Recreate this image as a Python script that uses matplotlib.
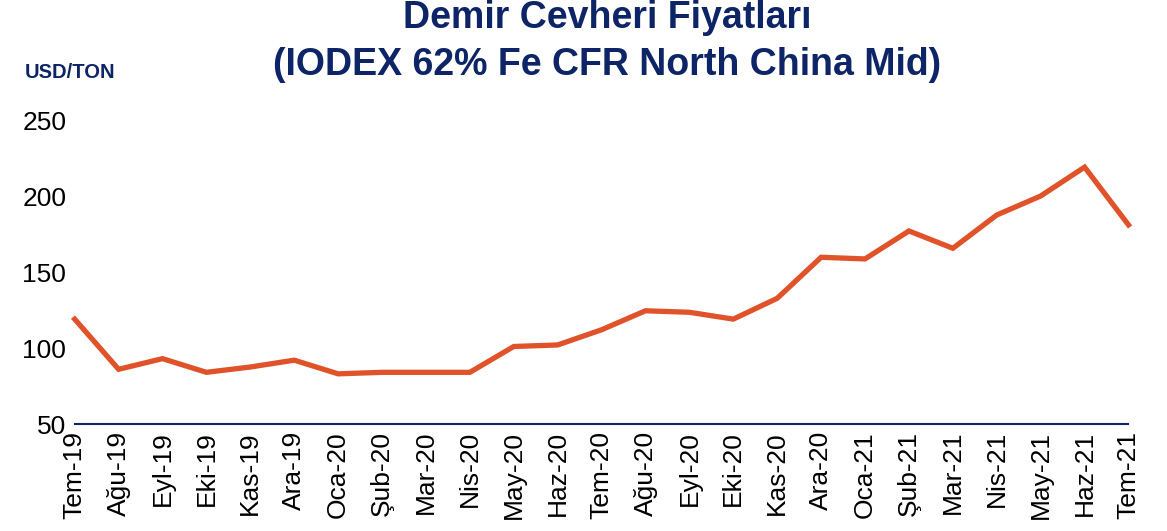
import matplotlib
matplotlib.use("Agg")
import matplotlib.pyplot as plt

months = ["Tem-19", "Ağu-19", "Eyl-19", "Eki-19", "Kas-19", "Ara-19",
          "Oca-20", "Şub-20", "Mar-20", "Nis-20", "May-20", "Haz-20",
          "Tem-20", "Ağu-20", "Eyl-20", "Eki-20", "Kas-20", "Ara-20",
          "Oca-21", "Şub-21", "Mar-21", "Nis-21", "May-21", "Haz-21", "Tem-21"]
prices = [119, 86, 93, 84, 87.5, 92, 83, 84, 84, 84, 101, 102,
          112, 124.5, 123.5, 119, 132.7, 159.7, 158.6, 177, 165.6, 187.5, 200, 219, 181]
yticks = [50, 100, 150, 200, 250]

NAVY = "#0d2466"
plt.rcParams["font.family"] = ["Liberation Sans", "DejaVu Sans"]

fig = plt.figure(figsize=(11.67, 5.31), dpi=100)
ax = fig.add_axes([0.064, 0.2015, 0.903, 0.5725])

x = range(len(months))
ax.plot(x, prices, color="#e0532a", linewidth=3.8, solid_joinstyle="miter",
        clip_on=False)

ax.set_xlim(0, len(months) - 1)
ax.set_ylim(50, 250)
ax.set_yticks(yticks)
ax.set_xticks(list(x))
ax.set_xticklabels(months, rotation=90, fontsize=19)
ax.tick_params(axis="y", labelsize=19, length=0, pad=6)
ax.tick_params(axis="x", length=0, pad=5)

for s in ["top", "right", "left"]:
    ax.spines[s].set_visible(False)
ax.spines["bottom"].set_color(NAVY)
ax.spines["bottom"].set_linewidth(1.5)

fig.text(0.52, 0.966, "Demir Cevheri Fiyatları", ha="center", va="center",
         fontsize=27, fontweight="bold", color=NAVY)
fig.text(0.52, 0.878, "(IODEX 62% Fe CFR North China Mid)", ha="center", va="center",
         fontsize=27, fontweight="bold", color=NAVY)
fig.text(0.021, 0.863, "USD/TON", ha="left", va="center",
         fontsize=14.5, fontweight="bold", color=NAVY)

fig.savefig("out.png", dpi=100)
